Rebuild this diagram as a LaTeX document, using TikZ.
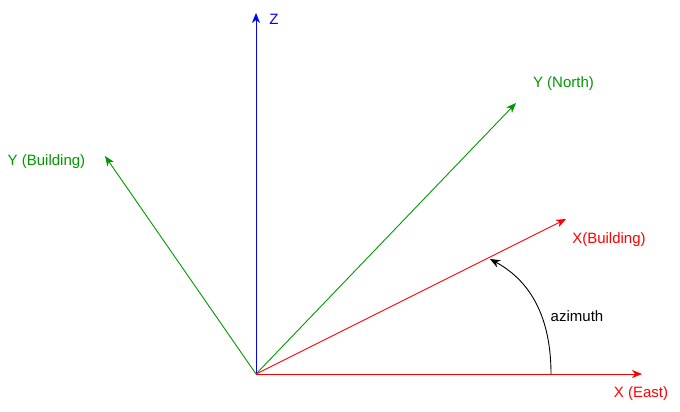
\documentclass[tikz,border=0pt]{standalone}
\usepackage{fontspec}
\setmainfont{Liberation Sans}
\usetikzlibrary{arrows.meta}
\definecolor{dgreen}{HTML}{009900}
\definecolor{dred}{HTML}{FF0000}
\definecolor{dblue}{HTML}{0000FF}
\tikzset{
  axis/.style={line width=0.9pt,-{Stealth[length=10pt,width=8pt,inset=3pt]}},
  lbl/.style={font=\fontsize{15}{17}\selectfont, inner sep=0pt},
}
\begin{document}
\begin{tikzpicture}[x=1pt,y=-1pt]
\useasboundingbox (0,0) rectangle (680,412);
\coordinate (O) at (256,374);
\coordinate (Z) at (256,13);
\coordinate (YN) at (516,103);
\coordinate (YB) at (105,156);
\coordinate (XB) at (566,219);
\coordinate (XE) at (642,374);
\coordinate (A1) at (551,374);
\coordinate (A2) at (490,259);
\draw[axis,dblue] (O) -- (Z);
\draw[axis,dgreen] (O) -- (YN);
\draw[axis,dgreen] (O) -- (YB);
\draw[axis,dred] (O) -- (XB);
\draw[axis,dred] (O) -- (XE);
\draw[axis,black] (A1) .. controls (551,310) and (525,278) .. (A2);
\node[lbl,text=dblue] (tz) at (274,19) {Z};
\node[lbl,text=dgreen] (tyn) at (563.5,83.5) {Y (North)};
\node[lbl,text=dgreen] (tyb) at (46.5,162) {Y (Building)};
\node[lbl,text=dred] (txb) at (609,240) {X(Building)};
\node[lbl,text=dred] (txe) at (641,393.5) {X (East)};
\node[lbl,text=black] (taz) at (577,316) {azimuth};
\end{tikzpicture}
\end{document}
